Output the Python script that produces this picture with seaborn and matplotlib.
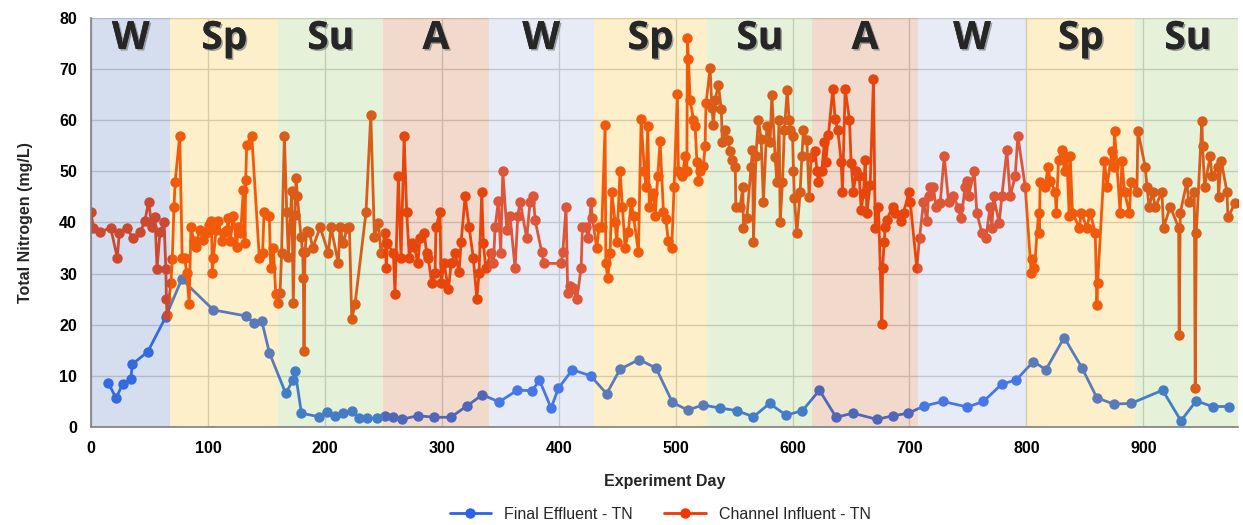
import matplotlib
matplotlib.use("Agg")
import pandas as pd
import matplotlib.pyplot as plt
import matplotlib.patheffects as pe
import seaborn as sns

# seasons: band edges in experiment days
season_edges = [0, 68, 160, 250, 340, 430, 527, 617, 707, 800, 893, 983]
season_labels = ['W', 'Sp', 'Su', 'A', 'W', 'Sp', 'Su', 'A', 'W', 'Sp', 'Su']
season_colors = {'W1': '#5b7fc3', 'W': '#a3b3df', 'Sp': '#f7c32f', 'Su': '#9bcb67', 'A': '#cb6f33'}

# final effluent TN (mg/L)
effluent_day = [14.8, 21.4, 27, 34, 35.4, 48.5, 63.9, 77.6, 104.6, 133, 139, 146, 152.6,
                166.5, 173, 174.5, 180, 195, 201.6, 208.7, 215.8, 223, 229.5, 236.4, 244.4,
                251.5, 258.6, 265.8, 279.4, 293.7, 307.7, 321.4, 334.8, 349, 364.7, 377.5,
                383.5, 393.5, 399.8, 411.7, 427.4, 441, 452.5, 468.8, 483.3, 497.3, 510.4,
                523.2, 538, 552.3, 566.6, 580.3, 594.5, 608.5, 623, 637.3, 651.6, 672,
                686.3, 699, 712.6, 728.6, 749.6, 763.3, 779, 791.3, 806, 816.7, 832.3,
                847.5, 860.3, 874.5, 889.4, 916.5, 932.2, 945.2, 959.2, 973.5]
effluent_tn = [8.7, 5.6, 8.4, 9.3, 12.3, 14.7, 21.5, 28.9, 22.9, 21.7, 20.4, 20.8, 14.5,
               6.6, 9.2, 11.0, 2.7, 2.0, 2.9, 2.2, 2.7, 3.2, 1.7, 1.7, 1.7,
               2.2, 1.9, 1.5, 2.2, 1.9, 1.9, 4.1, 6.3, 4.9, 7.2, 7.1,
               9.2, 3.7, 7.6, 11.2, 10.0, 6.5, 11.3, 13.2, 11.5, 4.8, 3.3,
               4.3, 3.7, 3.2, 2.0, 4.6, 2.3, 3.2, 7.2, 1.9, 2.7, 1.5,
               2.2, 2.7, 4.1, 5.0, 3.9, 5.0, 8.4, 9.2, 12.8, 11.2, 17.5,
               11.6, 5.7, 4.5, 4.6, 7.2, 1.2, 5.1, 4.0, 4.0]

# channel influent TN (mg/L), one line per season
influent_day = [
    0, 2, 7.7, 16.8, 22.5, 24.2, 30.5, 36, 42, 46, 49.3, 52, 54.7, 56.5, 59, 62.5, 64, 64.5, 65,
    68.4, 69.5, 71, 72, 75.9, 78, 80, 82, 84, 85.5, 88, 89.5, 93, 96, 98, 101, 103, 103.8, 104.6,
    107, 109, 111.8, 114.6, 116, 117.5, 119, 121.7, 124.6, 126, 128, 130.3, 131.7, 132.3, 133.2,
    137.5, 144, 146.8, 148, 152.5, 153.7, 156, 158,
    160.2, 161.7, 163, 165.4, 167.4, 168.8, 171.7, 173, 174.5, 175.4, 176.5, 179.6, 181, 181.6,
    182.2, 183, 184.5, 186.8, 189.6, 196, 203, 205.3, 211.5, 213, 215.8, 219, 221, 223, 225.8,
    235.2, 239.3, 242.4, 245.8, 248,
    251.5, 252.5, 253.5, 258.6, 260, 262.9, 265.2, 267.8, 270, 272.3, 274.3, 276.6, 279.5, 281.4,
    284.9, 287.1, 288.5, 291.4, 294.3, 295, 298.5, 299.4, 302, 305.7, 308, 311.4, 314.8, 316.5,
    320, 323.4, 327, 330, 331.9, 334.2, 335.6, 337.6,
    342.2, 344.2, 345.6, 348.4, 350.4, 352.2, 355.6, 358.4, 362.7, 365, 367, 372.7, 375.5, 378.4,
    379.8, 385.5, 387.5, 402, 403.5, 406.3, 407.7, 410, 412.6, 415.5, 419.2, 420.3, 423, 425.4,
    427.7, 428.8,
    432.6, 434.5, 436.9, 439.7, 440.3, 442, 444, 445.4, 448.2, 449.7, 452.5, 454.5, 456.8, 459.6,
    462, 464, 468.2, 470.5, 473.3, 474.5, 476.2, 477.5, 481, 482.5, 484.7, 486.7, 489.6, 491.6,
    493.8, 496.7, 498.7, 501.5, 502.4, 505.8, 508.1, 509.6, 510.1, 511, 512.4, 515.2, 516.7,
    518.2, 519.5, 521, 523.8, 525.2, 526,
    529.5, 531, 532.3, 533.8, 536.6, 539, 540, 542.4, 544.6, 546.6, 548.6, 551, 551.5, 555.2,
    557.5, 558, 560.9, 564.6, 565.7, 566.6, 568.6, 570.8, 573.1, 575.1, 578, 580.8, 582.3, 585.1,
    586.6, 588.5, 589.4, 591.4, 593, 595.5, 597, 598, 600, 600.8, 601.6, 603.7, 606.5, 608,
    609.3, 612.2, 614.2, 616,
    619.3, 621, 622.2, 625, 627.3, 628.5, 630.7, 634.4, 636.5, 638.7, 641.6, 642.7, 645, 648.7,
    650.1, 652.1, 654.4, 657, 658.7, 660.7, 662.1, 663.6, 666.4, 669.2, 670.7, 673.5, 676.4, 677,
    678.4, 679.2, 680.7, 685.5, 687.8, 692.6, 694.9, 699.7, 700.6, 706.3,
    708.6, 712, 714.9, 716.3, 717.5, 720.5, 722.6, 726.3, 729.7, 733.4, 737.6, 742, 744.2, 747.6,
    749.6, 750.5, 755.4, 757.6, 762, 765.3, 769, 770.5, 771.9, 776.7, 779, 783.3, 786.1, 790.4,
    792.7, 799,
    804.1, 805.2, 806.9, 810.4, 811, 811.8, 816.1, 818.4, 820.4, 824.7, 825.5, 827.5, 830.4,
    832.6, 834.6, 836.6, 837.5, 839.4, 845.2, 846.9, 851.7, 854.6, 858.9, 860.3, 860.9, 866.8,
    868.9, 873.2, 874.6, 875.4, 880.2, 881.7, 884, 888, 889.6, 894.5,
    895.4, 901.6, 903.1, 905, 907.9, 910.2, 915.9, 917.3, 923, 930.2, 930.7, 931.6, 937.3, 938.7,
    943.6, 944.4, 945.3, 950.1, 950.7, 952.4, 957.2, 958.7, 963.8, 964.3, 966.6, 971.5, 972.4,
    978.6]
influent_tn = [
    42.0, 39.0, 38.1, 39.0, 33.1, 37.9, 39.0, 36.9, 38.1, 40.2, 44.1, 39.2, 41.1, 31.0, 38.1, 40.1, 31.0, 25.0, 21.9,
    28.1, 32.8, 43.1, 48.0, 57.0, 33.0, 33.0, 30.1, 24.0, 39.1, 36.3, 35.3, 38.6, 36.5, 38.0, 39.5, 40.2, 30.1, 33.0,
    38.5, 40.2, 36.3, 38.2, 38.6, 40.8, 36.3, 41.2, 35.3, 39.2, 38.0, 46.4, 35.9, 48.3, 55.2,
    57.0, 33.0, 34.0, 42.0, 41.2, 31.1, 35.0, 26.0,
    24.2, 26.2, 34.0, 57.0, 42.1, 33.3, 46.2, 24.2, 41.5, 48.8, 45.1, 37.2, 34.2, 29.1,
    14.9, 34.2, 38.4, 38.2, 35.0, 39.1, 34.0, 39.1, 32.0, 39.1, 35.9, 39.0, 39.1, 21.1, 24.0,
    42.0, 61.1, 37.2, 39.9, 34.0,
    37.9, 31.1, 35.9, 34.0, 26.0, 49.0, 33.0, 57.0, 42.0, 33.0, 35.9, 35.3, 32.0, 36.9,
    38.0, 34.0, 33.0, 28.1, 30.1, 39.1, 42.0, 28.1, 32.0, 26.9, 32.0, 34.0, 30.4, 36.1,
    45.1, 39.1, 33.0, 25.0, 30.1, 46.0, 35.9, 31.1,
    34.0, 32.0, 39.1, 44.2, 34.0, 50.1, 38.6, 41.2, 31.1, 41.2, 44.1, 36.9, 44.1, 45.1,
    40.5, 34.2, 32.0, 32.0, 34.2, 43.1, 26.2, 27.5, 27.1, 25.0, 31.1, 39.1, 39.1, 36.9,
    44.1, 40.8,
    35.0, 39.1, 39.2, 59.1, 32.0, 29.1, 34.0, 46.0, 40.1, 36.1, 50.1, 43.1, 35.0, 38.2,
    44.1, 41.2, 34.2, 60.2, 50.0, 47.0, 58.9, 43.1, 45.7, 41.2, 49.1, 56.0, 42.1, 40.7,
    36.3, 35.0, 47.0, 65.2, 50.0, 49.0, 53.0, 50.0, 76.1, 72.0, 64.0, 60.1, 58.9,
    51.9, 48.1, 50.0, 51.1, 54.9, 63.3,
    70.2, 62.4, 59.1, 64.0, 66.9, 62.2, 55.8, 58.1, 56.2, 53.9, 52.3, 50.9, 43.0, 43.0,
    47.0, 38.9, 40.8, 50.9, 54.1, 36.1, 53.0, 60.1, 56.3, 44.1, 58.9, 55.8, 65.0, 52.9,
    48.0, 60.1, 40.1, 48.0, 58.1, 66.0, 60.1, 58.1, 57.0, 50.0, 44.8, 37.9, 46.0, 53.0,
    58.1, 56.2, 45.0, 52.9,
    53.9, 50.0, 48.0, 50.0, 55.8, 51.9, 57.1, 66.1, 60.2, 58.1, 51.9, 46.0, 66.1, 60.1,
    51.6, 46.0, 50.0, 49.0, 42.5, 45.7, 52.3, 41.9, 47.4, 68.0, 38.9, 43.1, 20.2, 31.1,
    36.1, 39.2, 40.5, 43.1, 41.9, 40.2, 41.9, 46.0, 44.1, 31.1,
    36.9, 44.1, 40.2, 45.1, 47.0, 47.0, 43.1, 43.8, 53.0, 44.1, 45.1, 42.8, 40.8, 47.0,
    48.2, 45.1, 50.1, 41.9, 37.9, 36.9, 43.1, 38.9, 45.1, 39.9, 45.1, 54.1, 45.1, 49.0,
    56.9, 47.0,
    30.1, 32.9, 31.1, 41.9, 37.9, 48.0, 47.0, 50.9, 48.2, 46.0, 41.9, 52.3, 54.1,
    50.0, 52.9, 41.2, 53.0, 41.9, 39.0, 41.9, 39.0, 41.9, 37.9, 23.9, 28.1, 52.1,
    47.0, 54.0, 50.9, 57.9, 41.9, 52.1, 46.0, 41.9, 48.0, 46.0,
    57.9, 50.9, 47.0, 43.0, 46.0, 43.0, 46.0, 39.0, 43.1, 39.0, 17.9, 41.9, 48.0, 44.1,
    46.0, 7.7, 37.9, 59.9, 55.0, 47.0, 53.0, 49.0, 50.9, 45.0, 52.1, 46.0, 41.0,
    43.9]

effluent = pd.DataFrame({'day': effluent_day, 'tn': effluent_tn})
influent = pd.DataFrame({'day': influent_day, 'tn': influent_tn})

sns.set_theme(style='whitegrid')
plt.rcParams['font.family'] = ['Liberation Sans', 'DejaVu Sans']

fig = plt.figure(figsize=(12.43, 5.25), dpi=100)
ax = fig.add_axes([0.0732, 0.1867, 0.9228, 0.779])

sns.lineplot(data=effluent, x='day', y='tn', color='#2864e6', marker='o', markersize=7.5,
             markeredgewidth=0, linewidth=2.0, estimator=None, label='Final Effluent - TN',
             ax=ax, zorder=2)
sns.lineplot(data=influent, x='day', y='tn', color='#f03700', marker='o', markersize=7.5,
             markeredgewidth=0, linewidth=2.0, estimator=None, label='Channel Influent - TN',
             ax=ax, zorder=3)

# translucent season bands laid over the data, like in the original
for i, lab in enumerate(season_labels):
    key = 'W1' if i == 0 else lab
    ax.axvspan(season_edges[i], season_edges[i + 1], color=season_colors[key], alpha=0.25,
               lw=0, zorder=4)
    ax.text((season_edges[i] + season_edges[i + 1]) / 2, 0.95, lab,
            transform=ax.get_xaxis_transform(), ha='center', va='center',
            fontsize=28, fontweight='bold', family=['Open Sans', 'DejaVu Sans'], zorder=6,
            path_effects=[pe.withSimplePatchShadow(offset=(1.2, -1.2),
                                                   shadow_rgbFace='#8a8a8a', alpha=0.8),
                          pe.Normal()])

ax.set_xlim(0, 981)
ax.set_ylim(0, 80)
ax.set_xticks(range(0, 1000, 100))
ax.set_yticks(range(0, 90, 10))
ax.grid(True, color='#cfcfcf', linewidth=1)
ax.set_axisbelow(True)
for s in ['top', 'right']:
    ax.spines[s].set_visible(False)
for s in ['left', 'bottom']:
    ax.spines[s].set_color('#7f7f7f')
    ax.spines[s].set_linewidth(1.2)
    ax.spines[s].set_zorder(5)
ax.tick_params(axis='both', labelsize=11.5, pad=4, colors='black')
for t in ax.get_xticklabels() + ax.get_yticklabels():
    t.set_fontweight('bold')

ax.set_xlabel('Experiment Day', fontsize=11.5, fontweight='bold', labelpad=13)
ax.set_ylabel('Total Nitrogen (mg/L)', fontsize=11.5, fontweight='bold', labelpad=19)

handles, labels = ax.get_legend_handles_labels()
ax.get_legend().remove()
fig.legend(handles, labels, loc='center', bbox_to_anchor=(0.531, 0.02), ncol=2,
           frameon=False, fontsize=11.5, handlelength=2.6, columnspacing=2.0)

fig.savefig('out.png', dpi=100)
